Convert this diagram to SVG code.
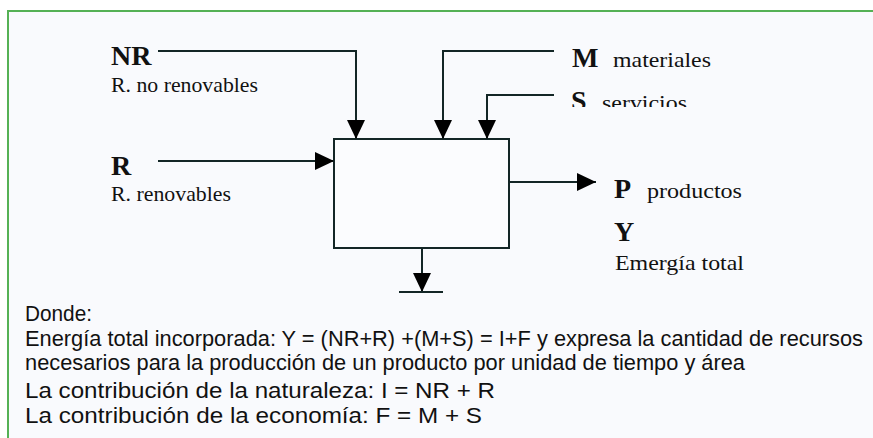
<svg xmlns="http://www.w3.org/2000/svg" width="873" height="438" viewBox="0 0 873 438">
  <defs>
    <style>
      .frame { fill: none; stroke: #55b155; stroke-width: 2; }
      .line { fill: none; stroke: #132626; stroke-width: 2; }
      .box { fill: #fbfcfe; stroke: #132626; stroke-width: 2; }
      .sym { font-family: "Liberation Serif", "Times New Roman", serif; font-weight: bold; font-size: 28px; fill: #111; }
      .lbl { font-family: "Liberation Serif", "Times New Roman", serif; font-size: 22px; fill: #111; }
      .note { font-family: "Liberation Sans", Arial, sans-serif; font-size: 22.5px; fill: #111; }
    </style>
    <marker id="head" viewBox="0 0 19 18" refX="19" refY="9" markerWidth="19" markerHeight="18" markerUnits="userSpaceOnUse" orient="auto">
      <path d="M0,0 L19,9 L0,18 z" fill="#000"/>
    </marker>
    <clipPath id="cut-s">
      <rect x="540" y="70" width="200" height="37"/>
    </clipPath>
  </defs>

  <rect width="873" height="438" fill="#ffffff"/>
  <rect x="9" y="12" width="864" height="426" fill="#f9fafd"/>
  <path class="frame" d="M8,438 V11 H873"/>

  <!-- process box -->
  <g id="process">
    <rect class="box" x="334" y="139" width="175" height="109"/>
  </g>

  <!-- flows into and out of the process -->
  <g id="connectors">
    <path class="line" d="M158,51 H356 V139" marker-end="url(#head)"/>
    <path class="line" d="M554,51 H443 V139" marker-end="url(#head)"/>
    <path class="line" d="M554,95 H487 V139" marker-end="url(#head)"/>
    <path class="line" d="M158,161 H334" marker-end="url(#head)"/>
    <path class="line" d="M509,182 H596" marker-end="url(#head)"/>
    <path class="line" d="M422,248 V292" marker-end="url(#head)"/>
    <path class="line" d="M399,292 H443"/>
  </g>

  <g id="nr">
    <text class="sym" x="111" y="65">NR</text>
    <text class="lbl" x="111" y="92" textLength="147" lengthAdjust="spacingAndGlyphs">R. no renovables</text>
  </g>

  <g id="r">
    <text class="sym" x="111" y="175">R</text>
    <text class="lbl" x="111" y="201" textLength="120" lengthAdjust="spacingAndGlyphs">R. renovables</text>
  </g>

  <g id="m">
    <text class="sym" x="572" y="67">M</text>
    <text class="lbl" x="613" y="67" textLength="98" lengthAdjust="spacingAndGlyphs">materiales</text>
  </g>

  <g id="s" clip-path="url(#cut-s)">
    <text class="sym" x="571" y="110">S</text>
    <text class="lbl" x="602" y="110" textLength="85" lengthAdjust="spacingAndGlyphs">servicios</text>
  </g>

  <g id="p">
    <text class="sym" x="614" y="198">P</text>
    <text class="lbl" x="647" y="198" textLength="95" lengthAdjust="spacingAndGlyphs">productos</text>
  </g>

  <g id="y">
    <text class="sym" x="614" y="241">Y</text>
    <text class="lbl" x="615" y="270" textLength="129" lengthAdjust="spacingAndGlyphs">Emergía total</text>
  </g>

  <g id="legend">
    <text class="note" x="25" y="321" textLength="67" lengthAdjust="spacingAndGlyphs">Donde:</text>
    <text class="note" x="25" y="346" textLength="838" lengthAdjust="spacingAndGlyphs">Energía total incorporada: Y = (NR+R) +(M+S) = I+F y expresa la cantidad de recursos</text>
    <text class="note" x="25" y="370" textLength="720" lengthAdjust="spacingAndGlyphs">necesarios para la producción de un producto por unidad de tiempo y área</text>
    <text class="note" x="25" y="398" textLength="470" lengthAdjust="spacingAndGlyphs">La contribución de la naturaleza: I = NR + R</text>
    <text class="note" x="25" y="423" textLength="457" lengthAdjust="spacingAndGlyphs">La contribución de la economía: F = M + S</text>
  </g>
</svg>
